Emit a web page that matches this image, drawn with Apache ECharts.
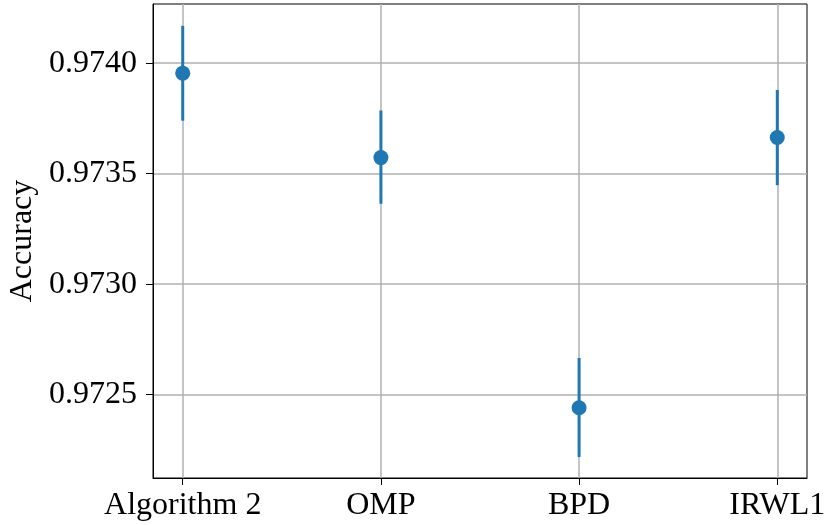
<!DOCTYPE html>
<html>
<head>
<meta charset="utf-8">
<script src="https://cdn.jsdelivr.net/npm/echarts@6/dist/echarts.min.js"></script>
<style>
  html, body { margin: 0; padding: 0; background: #fff; }
  #chart { width: 825px; height: 525px; }
</style>
</head>
<body>
<div id="chart"></div>
<script>
// values
const categories = ["Algorithm 2", "OMP", "BPD", "IRWL1"];
const means = [0.973955, 0.973573, 0.972441, 0.973664];
const errLow = [0.973740, 0.973364, 0.972218, 0.973448];
const errHigh = [0.974169, 0.973786, 0.972666, 0.973879];
const yTicks = [0.9725, 0.9730, 0.9735, 0.9740];
const xTicks = [0, 1, 2, 3];

const font = "Liberation Serif";
const blue = "#1f77b4";

const chart = echarts.init(document.getElementById("chart"));

chart.setOption({
  animation: false,
  grid: {
    left: 153,
    right: 18,
    top: 4,
    bottom: 47,
    outerBoundsMode: "none",
    containLabel: false,
    show: true,
    borderColor: "#000",
    borderWidth: 1
  },
  xAxis: {
    type: "value",
    min: -0.15,
    max: 3.15,
    axisLine: { show: true, onZero: false, lineStyle: { color: "#000", width: 1 } },
    axisTick: { show: true, customValues: xTicks, length: 7, lineStyle: { color: "#000" } },
    axisLabel: {
      customValues: xTicks,
      formatter: v => categories[Math.round(v)],
      fontFamily: font,
      fontSize: 32,
      color: "#000",
      margin: 12
    },
    splitLine: { show: true, lineStyle: { color: "#b0b0b0", width: 1.5 } }
  },
  yAxis: {
    type: "value",
    min: 0.972123,
    max: 0.974268,
    name: "Accuracy",
    nameLocation: "middle",
    nameGap: 112,
    nameTextStyle: { fontFamily: font, fontSize: 32, color: "#000" },
    axisLine: { show: true, onZero: false, lineStyle: { color: "#000", width: 1 } },
    axisTick: { show: true, customValues: yTicks, length: 7, lineStyle: { color: "#000" } },
    axisLabel: {
      customValues: yTicks,
      formatter: v => v.toFixed(4),
      fontFamily: font,
      fontSize: 32,
      color: "#000",
      margin: 16
    },
    splitLine: { show: true, lineStyle: { color: "#b0b0b0", width: 1.5 } }
  },
  series: [
    {
      type: "custom",
      silent: true,
      data: categories.map((c, i) => [i, errLow[i], errHigh[i]]),
      renderItem: (params, api) => {
        const lo = api.coord([api.value(0), api.value(1)]);
        const hi = api.coord([api.value(0), api.value(2)]);
        return {
          type: "line",
          shape: { x1: lo[0], y1: lo[1], x2: hi[0], y2: hi[1] },
          style: { stroke: blue, lineWidth: 3 }
        };
      },
      z: 3
    },
    {
      type: "scatter",
      symbol: "circle",
      symbolSize: 15,
      itemStyle: { color: blue, opacity: 1 },
      data: categories.map((c, i) => [i, means[i]]),
      z: 4
    }
  ]
});
</script>
</body>
</html>
